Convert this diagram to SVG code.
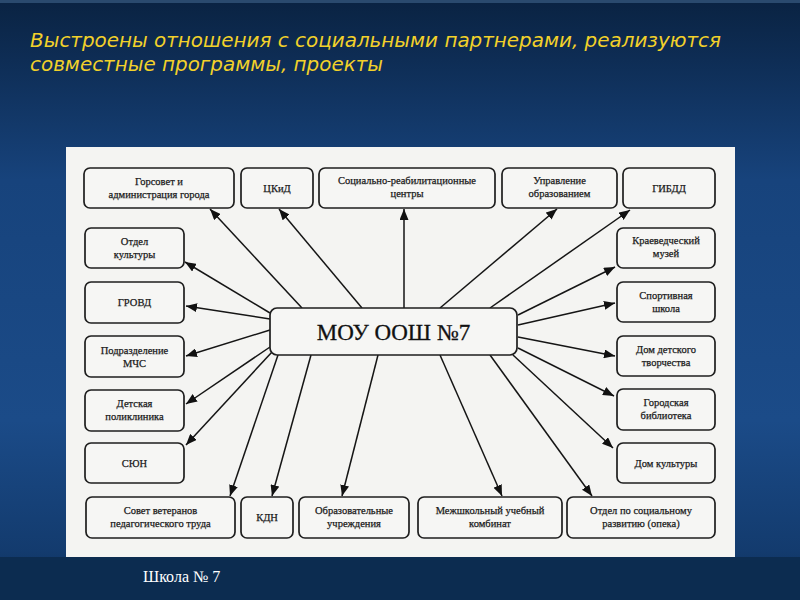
<svg xmlns="http://www.w3.org/2000/svg" width="800" height="600" viewBox="0 0 800 600">
  <defs>
    <linearGradient id="bg" x1="0" y1="0" x2="0" y2="1">
      <stop offset="0" stop-color="#0a2342"/>
      <stop offset="0.1" stop-color="#0e2d55"/>
      <stop offset="0.3" stop-color="#17437c"/>
      <stop offset="0.7" stop-color="#1b4b88"/>
      <stop offset="0.92" stop-color="#133b6e"/>
      <stop offset="1" stop-color="#0b2b4f"/>
    </linearGradient>
    <marker id="ah" markerUnits="userSpaceOnUse" markerWidth="11" markerHeight="9" refX="11" refY="4.5" orient="auto">
      <path d="M0,0 L11,4.5 L0,9 z" fill="#111"/>
    </marker>
    <style>
      .box { fill: #f6f6f4; stroke: #1e1e1e; stroke-width: 1.7; }
      .lbl { font-family: "Liberation Serif", "DejaVu Serif", serif; font-size: 10.5px; fill: #1a1a1a; stroke: #1a1a1a; stroke-width: 0.25; text-anchor: middle; }
      .edge { stroke: #151515; stroke-width: 1.5; fill: none; marker-end: url(#ah); }
      .title { font-family: "DejaVu Sans", "Liberation Sans", sans-serif; font-style: italic; font-size: 19px; fill: #f2d12a; }
    </style>
  </defs>

  <rect x="0" y="0" width="800" height="600" fill="url(#bg)"/>
  <rect x="0" y="0" width="800" height="3" fill="#2a4a6e"/>
  <rect x="0" y="557" width="800" height="43" fill="#0c2c50"/>

  <text class="title" x="30" y="47" textLength="691" lengthAdjust="spacingAndGlyphs">Выстроены отношения с социальными партнерами, реализуются</text>
  <text class="title" x="30" y="71" textLength="353" lengthAdjust="spacingAndGlyphs">совместные программы, проекты</text>

  <rect x="66" y="147" width="669" height="410" fill="#f4f4f2"/>

  <g id="connectors">
    <line class="edge" x1="302" y1="308" x2="210" y2="209"/>
    <line class="edge" x1="362" y1="308" x2="279" y2="209"/>
    <line class="edge" x1="404" y1="308" x2="404" y2="209"/>
    <line class="edge" x1="440" y1="308" x2="557" y2="209"/>
    <line class="edge" x1="490" y1="308" x2="630" y2="210"/>
    <line class="edge" x1="518" y1="315" x2="615" y2="267"/>
    <line class="edge" x1="518" y1="325" x2="615" y2="303"/>
    <line class="edge" x1="518" y1="337" x2="615" y2="356"/>
    <line class="edge" x1="518" y1="348" x2="614" y2="396"/>
    <line class="edge" x1="513" y1="355" x2="613" y2="448"/>
    <line class="edge" x1="490" y1="355" x2="592" y2="496"/>
    <line class="edge" x1="440" y1="355" x2="502" y2="496"/>
    <line class="edge" x1="378" y1="355" x2="342" y2="496"/>
    <line class="edge" x1="311" y1="355" x2="272" y2="496"/>
    <line class="edge" x1="278" y1="355" x2="230" y2="496"/>
    <line class="edge" x1="272" y1="352" x2="186" y2="445"/>
    <line class="edge" x1="270" y1="347" x2="186" y2="404"/>
    <line class="edge" x1="270" y1="330" x2="186" y2="356"/>
    <line class="edge" x1="270" y1="319" x2="186" y2="306"/>
    <line class="edge" x1="270" y1="313" x2="185" y2="262"/>
  </g>

  <g id="center">
    <rect class="box" x="270" y="308" width="247" height="47" rx="7"/>
    <text x="393.5" y="340" font-family="Liberation Serif, DejaVu Serif, serif" font-size="23" fill="#111" stroke="#111" stroke-width="0.3" text-anchor="middle">МОУ ООШ №7</text>
  </g>

  <g id="gorsovet">
    <rect class="box" x="84" y="168" width="150" height="40" rx="6"/>
    <text class="lbl" x="159" y="185">Горсовет и</text>
    <text class="lbl" x="159" y="198">администрация города</text>
  </g>
  <g id="ckid">
    <rect class="box" x="241" y="168" width="72" height="40" rx="6"/>
    <text class="lbl" x="277" y="192">ЦКиД</text>
  </g>
  <g id="socreab">
    <rect class="box" x="319" y="168" width="176" height="40" rx="6"/>
    <text class="lbl" x="407" y="184">Социально-реабилитационные</text>
    <text class="lbl" x="407" y="197">центры</text>
  </g>
  <g id="upravlenie">
    <rect class="box" x="502" y="168" width="115" height="40" rx="6"/>
    <text class="lbl" x="559.5" y="184">Управление</text>
    <text class="lbl" x="559.5" y="197">образованием</text>
  </g>
  <g id="gibdd">
    <rect class="box" x="623" y="168" width="92" height="40" rx="6"/>
    <text class="lbl" x="669" y="192">ГИБДД</text>
  </g>

  <g id="otdel-kultury">
    <rect class="box" x="85" y="228" width="99" height="40" rx="6"/>
    <text class="lbl" x="134.5" y="245">Отдел</text>
    <text class="lbl" x="134.5" y="258">культуры</text>
  </g>
  <g id="grovd">
    <rect class="box" x="85" y="282" width="99" height="41" rx="6"/>
    <text class="lbl" x="134.5" y="306">ГРОВД</text>
  </g>
  <g id="mchs">
    <rect class="box" x="85" y="336" width="99" height="41" rx="6"/>
    <text class="lbl" x="134.5" y="354">Подразделение</text>
    <text class="lbl" x="134.5" y="367">МЧС</text>
  </g>
  <g id="poliklinika">
    <rect class="box" x="85" y="390" width="99" height="41" rx="6"/>
    <text class="lbl" x="134.5" y="407">Детская</text>
    <text class="lbl" x="134.5" y="420">поликлиника</text>
  </g>
  <g id="syun">
    <rect class="box" x="85" y="443" width="99" height="40" rx="6"/>
    <text class="lbl" x="134.5" y="467">СЮН</text>
  </g>

  <g id="sovet-veteranov">
    <rect class="box" x="86" y="497" width="149" height="41" rx="6"/>
    <text class="lbl" x="160.5" y="514">Совет ветеранов</text>
    <text class="lbl" x="160.5" y="527">педагогического труда</text>
  </g>
  <g id="kdn">
    <rect class="box" x="241" y="497" width="52" height="41" rx="6"/>
    <text class="lbl" x="267" y="521">КДН</text>
  </g>
  <g id="obrazovatelnye">
    <rect class="box" x="299" y="497" width="110" height="41" rx="6"/>
    <text class="lbl" x="354" y="514">Образовательные</text>
    <text class="lbl" x="354" y="527">учреждения</text>
  </g>
  <g id="mezhshkolny">
    <rect class="box" x="418" y="497" width="144" height="41" rx="6"/>
    <text class="lbl" x="490" y="514">Межшкольный учебный</text>
    <text class="lbl" x="490" y="527">комбинат</text>
  </g>
  <g id="opeka">
    <rect class="box" x="567" y="497" width="148" height="41" rx="6"/>
    <text class="lbl" x="641" y="514">Отдел по социальному</text>
    <text class="lbl" x="641" y="527">развитию (опека)</text>
  </g>

  <g id="kraeved">
    <rect class="box" x="617" y="228" width="98" height="40" rx="6"/>
    <text class="lbl" x="666" y="244">Краеведческий</text>
    <text class="lbl" x="666" y="257">музей</text>
  </g>
  <g id="sport">
    <rect class="box" x="617" y="282" width="98" height="40" rx="6"/>
    <text class="lbl" x="666" y="299">Спортивная</text>
    <text class="lbl" x="666" y="312">школа</text>
  </g>
  <g id="ddt">
    <rect class="box" x="617" y="336" width="98" height="40" rx="6"/>
    <text class="lbl" x="666" y="353">Дом детского</text>
    <text class="lbl" x="666" y="366">творчества</text>
  </g>
  <g id="biblioteka">
    <rect class="box" x="617" y="389" width="98" height="41" rx="6"/>
    <text class="lbl" x="666" y="406">Городская</text>
    <text class="lbl" x="666" y="419">библиотека</text>
  </g>
  <g id="dk">
    <rect class="box" x="617" y="443" width="98" height="40" rx="6"/>
    <text class="lbl" x="666" y="467">Дом культуры</text>
  </g>

  <text x="143" y="582" font-family="Liberation Serif, DejaVu Serif, serif" font-size="16" fill="#ffffff">Школа № 7</text>
</svg>
